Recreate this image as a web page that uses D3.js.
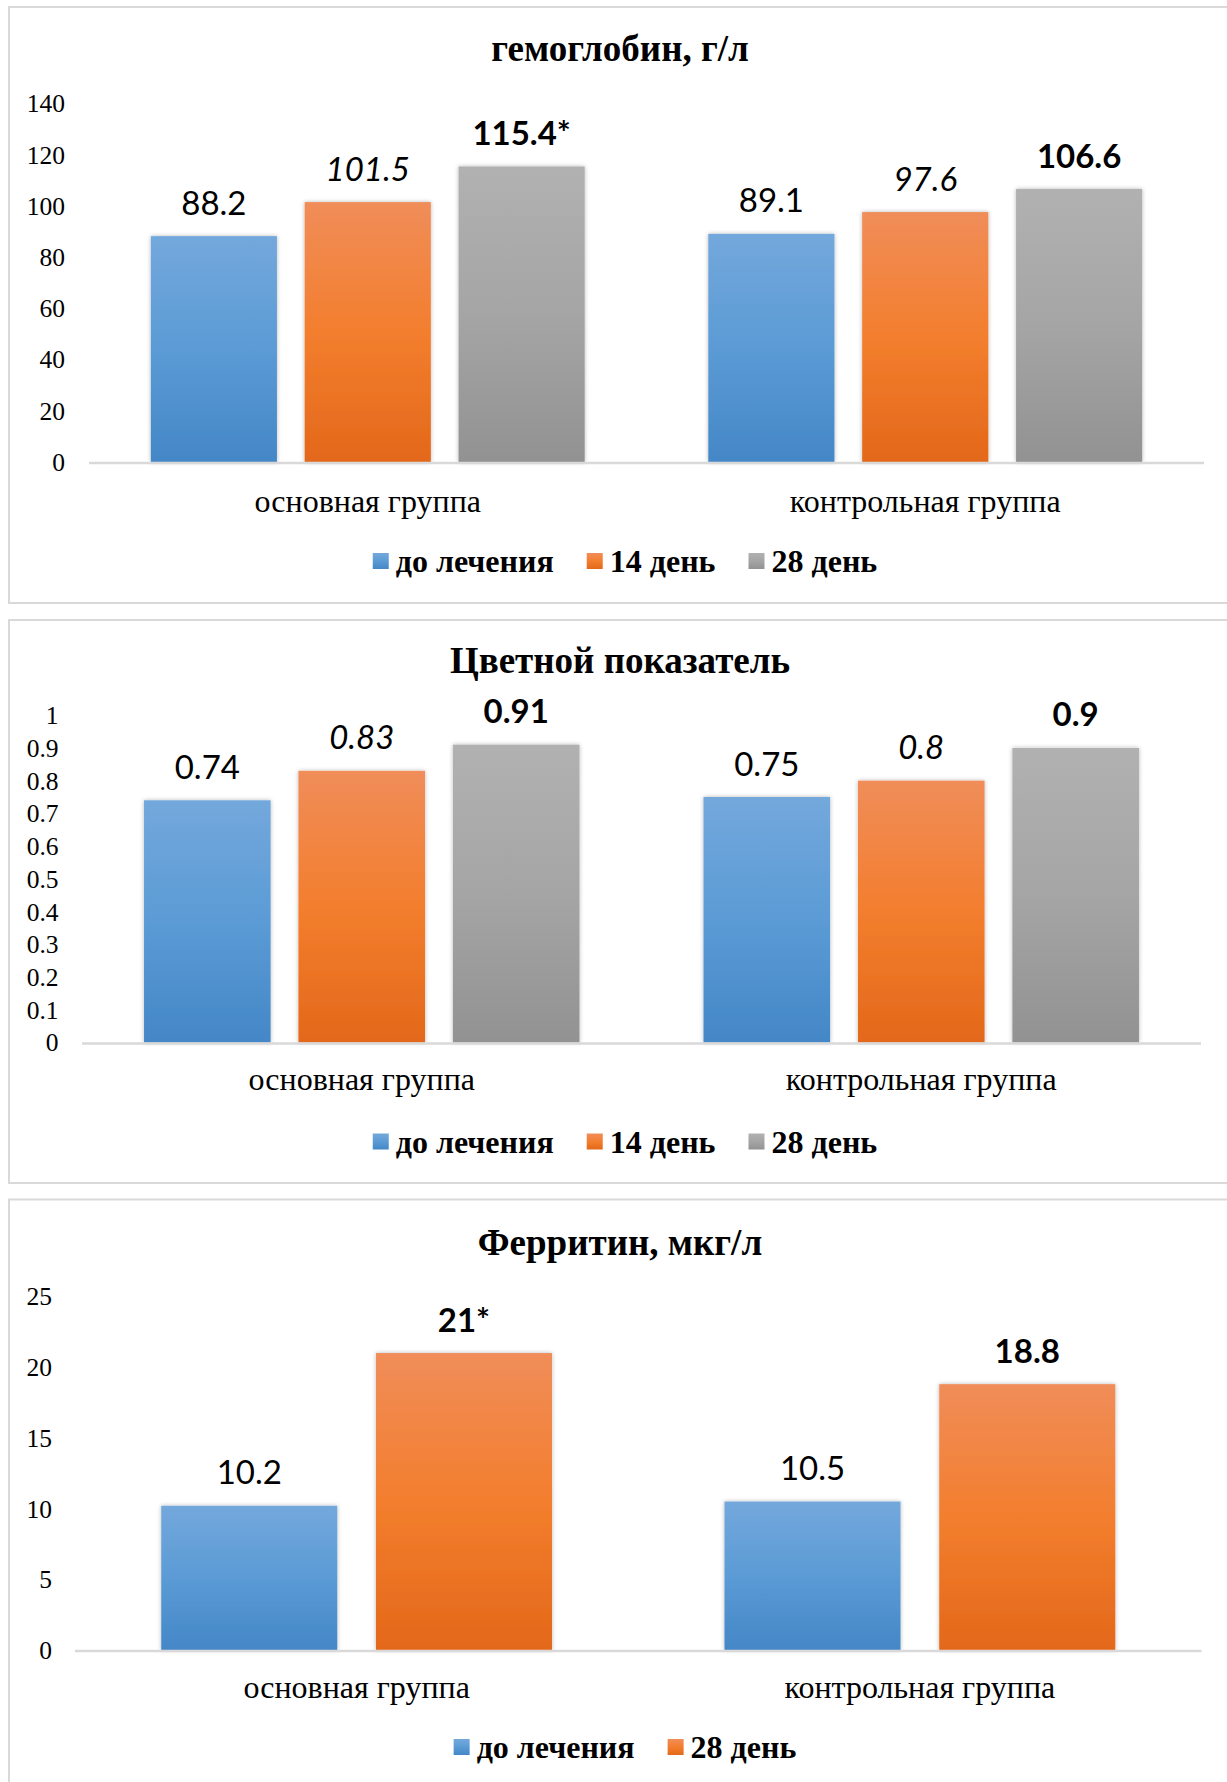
<!DOCTYPE html>
<html lang="ru">
<head>
<meta charset="utf-8">
<title>Гемоглобин, цветной показатель, ферритин</title>
<script src="https://cdn.jsdelivr.net/npm/d3@7"></script>
<style>
  html, body { margin: 0; padding: 0; background: #ffffff; }
  svg { display: block; }
</style>
</head>
<body>
<svg id="chart" width="1227" height="1782"></svg>
<script>
// ---- data ----
const groups = ["основная группа", "контрольная группа"];
const seriesNames = ["до лечения", "14 день", "28 день"];

// Haemoglobin, g/l
const hbBefore = [88.2, 89.1];
const hbDay14 = [101.5, 97.6];
const hbDay28 = [115.4, 106.6];
const hbDay28Marks = ["*", ""];
const hbTicks = [0, 20, 40, 60, 80, 100, 120, 140];

// Colour index
const ciBefore = [0.74, 0.75];
const ciDay14 = [0.83, 0.8];
const ciDay28 = [0.91, 0.9];
const ciTicks = [0, 0.1, 0.2, 0.3, 0.4, 0.5, 0.6, 0.7, 0.8, 0.9, 1];

// Ferritin, µg/l
const ferSeriesNames = ["до лечения", "28 день"];
const ferBefore = [10.2, 10.5];
const ferDay28 = [21, 18.8];
const ferDay28Marks = ["*", ""];
const ferTicks = [0, 5, 10, 15, 20, 25];

// ---- styling ----
const serif = "'Liberation Serif', 'Times New Roman', serif";
const sans = "Lato, 'Open Sans', sans-serif";
const palette = {
  blue:   ["#73a8dc", "#5b9bd5", "#4487c7"],
  orange: ["#f08d59", "#f37e2e", "#e3681a"],
  gray:   ["#b1b1b1", "#a5a5a5", "#929292"]
};
const labelStyle = {
  regular: { weight: 400, style: "normal" },
  italic:  { weight: 400, style: "italic" },
  bold:    { weight: 700, style: "normal" }
};

const svg = d3.select("#chart");
const defs = svg.append("defs");

Object.entries(palette).forEach(([name, stops]) => {
  const g = defs.append("linearGradient")
    .attr("id", "grad-" + name)
    .attr("x1", 0).attr("y1", 0).attr("x2", 0).attr("y2", 1);
  g.append("stop").attr("offset", "0%").attr("stop-color", stops[0]);
  g.append("stop").attr("offset", "50%").attr("stop-color", stops[1]);
  g.append("stop").attr("offset", "100%").attr("stop-color", stops[2]);
});

const shadow = defs.append("filter").attr("id", "barShadow")
  .attr("x", "-10%").attr("y", "-5%").attr("width", "120%").attr("height", "110%");
shadow.append("feDropShadow")
  .attr("dx", 0).attr("dy", 0).attr("stdDeviation", 2.2)
  .attr("flood-color", "#000").attr("flood-opacity", 0.28);

// Draws one clustered bar chart inside its framed panel.
function drawPanel(p) {
  const g = svg.append("g");

  g.append("rect")
    .attr("x", p.box[0]).attr("y", p.box[1])
    .attr("width", p.box[2] - p.box[0]).attr("height", p.box[3] - p.box[1])
    .attr("fill", "#fff").attr("stroke", "#d9d9d9").attr("stroke-width", 2);

  g.append("text")
    .attr("x", p.titleX).attr("y", p.titleY)
    .attr("text-anchor", "middle")
    .attr("font-family", serif).attr("font-weight", 700).attr("font-size", 37)
    .attr("fill", "#000")
    .text(p.title);

  const y = d3.scaleLinear().domain([0, p.yMax]).range([p.y0, p.yTop]);
  const x0 = d3.scaleBand().domain(groups).range(p.xRange).padding(0);

  // Excel-like cluster spacing: gap width ~98%, series overlap ~ -22%
  const n = p.series.length;
  const gapWidth = 0.98, overlap = 0.22;
  const barW = x0.bandwidth() / (n + (n - 1) * overlap + gapWidth);
  const inset = barW * gapWidth / 2;
  const x1 = d3.scaleBand()
    .domain(d3.range(n))
    .range([inset, x0.bandwidth() - inset])
    .paddingInner(overlap / (1 + overlap))
    .paddingOuter(0);

  // value axis: labels only, no line
  const yAxis = d3.axisLeft(y).tickValues(p.ticks).tickSize(0).tickPadding(0)
    .tickFormat(d => String(+d.toFixed(2)));
  const ax = g.append("g").attr("transform", `translate(${p.tickRight},0)`).call(yAxis);
  ax.select(".domain").remove();
  ax.selectAll("text")
    .attr("font-family", serif).attr("font-size", 25.5).attr("fill", "#000")
    .attr("dy", "0.33em");

  // bars
  p.series.forEach((s, si) => {
    const sg = g.append("g");
    sg.selectAll("rect")
      .data(s.values)
      .join("rect")
      .attr("x", (d, i) => x0(groups[i]) + x1(si))
      .attr("y", d => y(d))
      .attr("width", x1.bandwidth())
      .attr("height", d => y(0) - y(d))
      .attr("fill", `url(#grad-${s.color})`)
      .attr("filter", "url(#barShadow)");

    const ls = labelStyle[s.label];
    sg.selectAll("text")
      .data(s.values)
      .join("text")
      .attr("x", (d, i) => x0(groups[i]) + x1(si) + x1.bandwidth() / 2)
      .attr("y", d => y(d) - 21.5)
      .attr("text-anchor", "middle")
      .attr("font-family", sans)
      .attr("font-size", 33)
      .attr("font-weight", ls.weight)
      .attr("font-style", ls.style)
      .attr("fill", "#000")
      .text((d, i) => String(d) + (s.marks ? s.marks[i] : ""));
  });

  // category axis line
  g.append("line")
    .attr("x1", p.xRange[0]).attr("x2", p.xRange[1])
    .attr("y1", y(0) + 1).attr("y2", y(0) + 1)
    .attr("stroke", "#d9d9d9").attr("stroke-width", 2.5);

  // category labels
  g.selectAll(".cat")
    .data(groups)
    .join("text")
    .attr("x", d => x0(d) + x0.bandwidth() / 2)
    .attr("y", p.catY)
    .attr("text-anchor", "middle")
    .attr("font-family", serif).attr("font-size", 32).attr("fill", "#000")
    .text(d => d);

  // legend, centred
  const lg = g.append("g");
  const items = p.series.map(s => {
    const it = lg.append("g");
    it.append("rect")
      .attr("width", 16).attr("height", 16)
      .attr("y", p.legendY - 19)
      .attr("fill", `url(#grad-${s.color})`);
    const t = it.append("text")
      .attr("x", 23).attr("y", p.legendY)
      .attr("font-family", serif).attr("font-weight", 700).attr("font-size", 32)
      .attr("fill", "#000")
      .text(s.name);
    return { it, w: 23 + t.node().getComputedTextLength() };
  });
  const gap = 33;
  const total = d3.sum(items, d => d.w) + gap * (items.length - 1);
  let cx = p.legendCenter - total / 2;
  items.forEach(d => {
    d.it.attr("transform", `translate(${cx},0)`);
    cx += d.w + gap;
  });
}

drawPanel({
  box: [9, 7, 1232, 603],
  title: "гемоглобин, г/л", titleX: 620, titleY: 61,
  xRange: [89, 1204], y0: 462, yTop: 103.5, yMax: 140,
  ticks: hbTicks, tickRight: 65,
  catY: 512, legendY: 572, legendCenter: 625,
  series: [
    { name: seriesNames[0], values: hbBefore, color: "blue", label: "regular" },
    { name: seriesNames[1], values: hbDay14, color: "orange", label: "italic" },
    { name: seriesNames[2], values: hbDay28, color: "gray", label: "bold", marks: hbDay28Marks }
  ]
});

drawPanel({
  box: [9, 620, 1232, 1183],
  title: "Цветной показатель", titleX: 620, titleY: 673,
  xRange: [82, 1201], y0: 1042.5, yTop: 715.2, yMax: 1,
  ticks: ciTicks, tickRight: 58.5,
  catY: 1090, legendY: 1152.5, legendCenter: 625,
  series: [
    { name: seriesNames[0], values: ciBefore, color: "blue", label: "regular" },
    { name: seriesNames[1], values: ciDay14, color: "orange", label: "italic" },
    { name: seriesNames[2], values: ciDay28, color: "gray", label: "bold" }
  ]
});

drawPanel({
  box: [9, 1199.5, 1232, 1800],
  title: "Ферритин, мкг/л", titleX: 620, titleY: 1255,
  xRange: [75, 1201.5], y0: 1650, yTop: 1296.5, yMax: 25,
  ticks: ferTicks, tickRight: 52,
  catY: 1697.5, legendY: 1758, legendCenter: 625,
  series: [
    { name: ferSeriesNames[0], values: ferBefore, color: "blue", label: "regular" },
    { name: ferSeriesNames[1], values: ferDay28, color: "orange", label: "bold", marks: ferDay28Marks }
  ]
});
</script>
</body>
</html>
